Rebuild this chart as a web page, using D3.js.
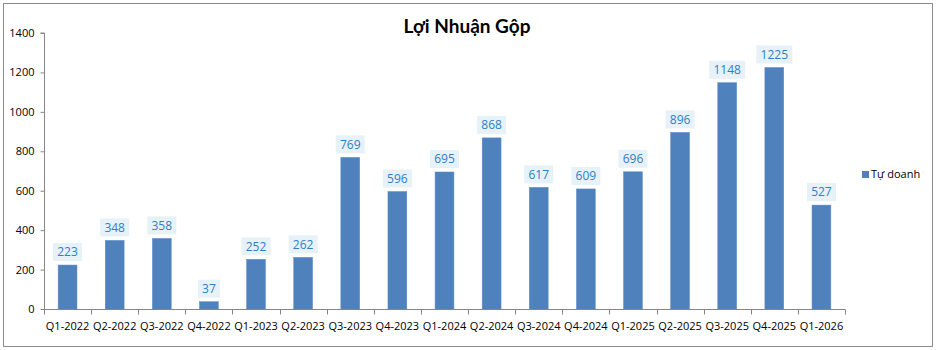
<!DOCTYPE html>
<html>
<head>
<meta charset="utf-8">
<script src="https://cdn.jsdelivr.net/npm/d3@7"></script>
<style>
  html, body { margin: 0; padding: 0; background: #fff; }
  svg { display: block; font-family: "Open Sans", "Liberation Sans", sans-serif; }
</style>
</head>
<body>
<svg id="chart" width="936" height="350"></svg>
<script>
// Gross profit by quarter
const categories = ["Q1-2022","Q2-2022","Q3-2022","Q4-2022","Q1-2023","Q2-2023","Q3-2023","Q4-2023",
  "Q1-2024","Q2-2024","Q3-2024","Q4-2024","Q1-2025","Q2-2025","Q3-2025","Q4-2025","Q1-2026"];
const values = [223, 348, 358, 37, 252, 262, 769, 596, 695, 868, 617, 609, 696, 896, 1148, 1225, 527];
const yTicks = [0, 200, 400, 600, 800, 1000, 1200, 1400];
const seriesName = "Tự doanh";
const title = "Lợi Nhuận Gộp";

const svg = d3.select("#chart");
const W = 936, H = 350;
const m = { left: 44, right: 91, top: 33, bottom: 41 };

// outer frame
svg.append("rect").attr("x", 3.5).attr("y", 3.5).attr("width", W - 7).attr("height", H - 7)
  .attr("fill", "#fff").attr("stroke", "#8c8c8c").attr("stroke-width", 1);

const x = d3.scaleBand().domain(categories).range([m.left, W - m.right]).paddingInner(0.6).paddingOuter(0.3);
const y = d3.scaleLinear().domain([0, 1400]).range([H - m.bottom, m.top]);

// title
svg.append("text").attr("x", 467).attr("y", 33).attr("text-anchor", "middle")
  .attr("font-family", "Lato, 'Open Sans', sans-serif").attr("font-weight", "bold")
  .attr("font-size", 19).attr("fill", "#000").text(title);

// y axis
const yAxis = d3.axisLeft(y).tickValues(yTicks).tickSize(4).tickPadding(6).tickFormat(d3.format("d"));
const gy = svg.append("g").attr("transform", `translate(${m.left + 0.5},0)`).call(yAxis);
gy.select(".domain").attr("stroke", "#868686").attr("d", `M-4,${y(1400)}H0V${y(0)}`);
gy.selectAll(".tick line").attr("stroke", "#868686");
gy.selectAll(".tick text").attr("font-size", 11).attr("fill", "#000")
  .attr("font-family", "'Open Sans', sans-serif");

// x axis with ticks between categories
const baseY = y(0) + 0.5;
const gx = svg.append("g");
gx.append("line").attr("x1", m.left).attr("x2", W - m.right).attr("y1", baseY).attr("y2", baseY)
  .attr("stroke", "#868686");
const step = x.step();
const edges = d3.range(categories.length + 1).map(i => m.left + i * (W - m.left - m.right) / categories.length);
gx.selectAll("line.tk").data(edges).join("line").attr("class", "tk")
  .attr("x1", d => Math.round(d) + 0.5).attr("x2", d => Math.round(d) + 0.5)
  .attr("y1", baseY).attr("y2", baseY + 5).attr("stroke", "#868686");
gx.selectAll("text").data(categories).join("text")
  .attr("x", d => x(d) + x.bandwidth() / 2).attr("y", baseY + 20)
  .attr("text-anchor", "middle").attr("font-size", 11).attr("fill", "#000")
  .attr("font-family", "'Open Sans', sans-serif").text(d => d);

// bars
const data = categories.map((c, i) => ({ c, v: values[i] }));
svg.append("g").selectAll("rect").data(data).join("rect")
  .attr("x", d => x(d.c)).attr("width", x.bandwidth())
  .attr("y", d => y(d.v)).attr("height", d => y(0) - y(d.v))
  .attr("fill", "#4F81BD").attr("stroke", "#5b8bc6").attr("stroke-width", 0.5);

// value labels
const lg = svg.append("g").selectAll("g").data(data).join("g")
  .attr("transform", d => `translate(${x(d.c) + x.bandwidth() / 2},${y(d.v) - 13})`);
lg.append("rect")
  .attr("x", d => -(String(d.v).length * 7 + 8) / 2).attr("y", -9)
  .attr("width", d => String(d.v).length * 7 + 8).attr("height", 18)
  .attr("fill", "#e6f1f8");
lg.append("text").attr("text-anchor", "middle").attr("dy", "0.35em")
  .attr("font-size", 12).attr("fill", "#2f7fc8")
  .attr("font-family", "'Open Sans', sans-serif").text(d => d.v);

// legend
const leg = svg.append("g").attr("transform", "translate(862,174)");
leg.append("rect").attr("x", 0).attr("y", -3).attr("width", 7).attr("height", 7).attr("fill", "#4F81BD");
leg.append("text").attr("x", 9).attr("y", 0).attr("dy", "0.35em").attr("font-size", 11)
  .attr("fill", "#000").attr("font-family", "'Open Sans', sans-serif").text(seriesName);
</script>
</body>
</html>
